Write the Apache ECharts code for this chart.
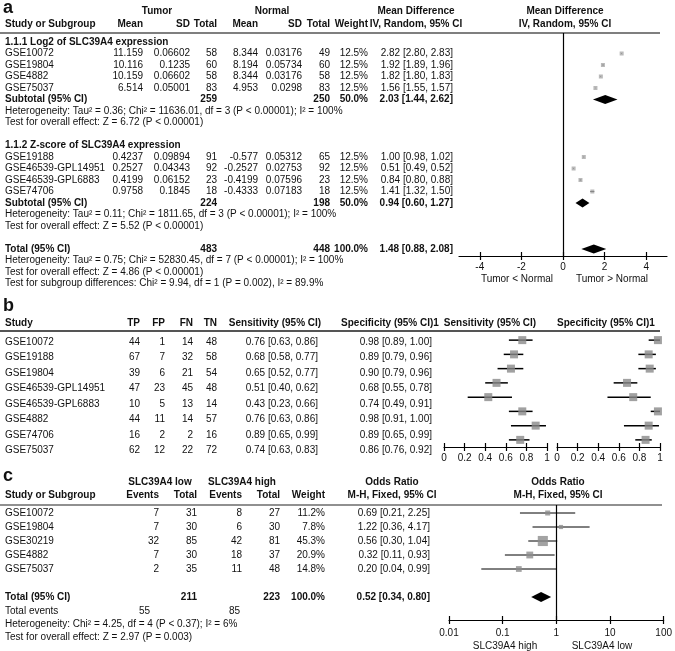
<!DOCTYPE html>
<html><head><meta charset="utf-8">
<script src="https://cdn.jsdelivr.net/npm/echarts@6/dist/echarts.min.js"></script>
<style>html,body{margin:0;padding:0;background:#fff}#c{width:675px;height:651px}</style>
</head><body><div id="c"></div><script>
// ================= DATA =================
// ---- Panel a ----
const aGroupTitles = ['1.1.1 Log2 of SLC39A4 expression', '1.1.2 Z-score of SLC39A4 expression'];
const aStudies1 = ['GSE10072', 'GSE19804', 'GSE4882', 'GSE75037'];
const aTumorMean1 = ['11.159', '10.116', '10.159', '6.514'];
const aTumorSD1 = ['0.06602', '0.1235', '0.06602', '0.05001'];
const aTumorN1 = [58, 60, 58, 83];
const aNormMean1 = ['8.344', '8.194', '8.344', '4.953'];
const aNormSD1 = ['0.03176', '0.05734', '0.03176', '0.0298'];
const aNormN1 = [49, 60, 58, 83];
const aWeight1 = ['12.5%', '12.5%', '12.5%', '12.5%'];
const aMD1 = [2.82, 1.92, 1.82, 1.56];
const aLo1 = [2.80, 1.89, 1.80, 1.55];
const aHi1 = [2.83, 1.96, 1.83, 1.57];
const aSubN1 = [259, 250];
const aSubW1 = '50.0%';
const aSubCI1 = [2.03, 1.44, 2.62];
const aHet1 = 'Heterogeneity: Tau\u00b2 = 0.36; Chi\u00b2 = 11636.01, df = 3 (P < 0.00001); I\u00b2 = 100%';
const aTest1 = 'Test for overall effect: Z = 6.72 (P < 0.00001)';

const aStudies2 = ['GSE19188', 'GSE46539-GPL14951', 'GSE46539-GPL6883', 'GSE74706'];
const aTumorMean2 = ['0.4237', '0.2527', '0.4199', '0.9758'];
const aTumorSD2 = ['0.09894', '0.04343', '0.06152', '0.1845'];
const aTumorN2 = [91, 92, 23, 18];
const aNormMean2 = ['-0.577', '-0.2527', '-0.4199', '-0.4333'];
const aNormSD2 = ['0.05312', '0.02753', '0.07596', '0.07183'];
const aNormN2 = [65, 92, 23, 18];
const aWeight2 = ['12.5%', '12.5%', '12.5%', '12.5%'];
const aMD2 = [1.00, 0.51, 0.84, 1.41];
const aLo2 = [0.98, 0.49, 0.80, 1.32];
const aHi2 = [1.02, 0.52, 0.88, 1.50];
const aSubN2 = [224, 198];
const aSubW2 = '50.0%';
const aSubCI2 = [0.94, 0.60, 1.27];
const aHet2 = 'Heterogeneity: Tau\u00b2 = 0.11; Chi\u00b2 = 1811.65, df = 3 (P < 0.00001); I\u00b2 = 100%';
const aTest2 = 'Test for overall effect: Z = 5.52 (P < 0.00001)';

const aTotN = [483, 448];
const aTotW = '100.0%';
const aTotCI = [1.48, 0.88, 2.08];
const aTotHet = 'Heterogeneity: Tau\u00b2 = 0.75; Chi\u00b2 = 52830.45, df = 7 (P < 0.00001); I\u00b2 = 100%';
const aTotTest = 'Test for overall effect: Z = 4.86 (P < 0.00001)';
const aSubgroupTest = 'Test for subgroup differences: Chi\u00b2 = 9.94, df = 1 (P = 0.002), I\u00b2 = 89.9%';
const aTicks = [-4, -2, 0, 2, 4];
const aAxisNotes = ['Tumor < Normal', 'Tumor > Normal'];

// ---- Panel b ----
const bStudies = ['GSE10072', 'GSE19188', 'GSE19804', 'GSE46539-GPL14951', 'GSE46539-GPL6883', 'GSE4882', 'GSE74706', 'GSE75037'];
const bTP = [44, 67, 39, 47, 10, 44, 16, 62];
const bFP = [1, 7, 6, 23, 5, 11, 2, 12];
const bFN = [14, 32, 21, 45, 13, 14, 2, 22];
const bTN = [48, 58, 54, 48, 14, 57, 16, 72];
const bSens = [0.76, 0.68, 0.65, 0.51, 0.43, 0.76, 0.89, 0.74];
const bSensLo = [0.63, 0.58, 0.52, 0.40, 0.23, 0.63, 0.65, 0.63];
const bSensHi = [0.86, 0.77, 0.77, 0.62, 0.66, 0.86, 0.99, 0.83];
const bSpec = [0.98, 0.89, 0.90, 0.68, 0.74, 0.98, 0.89, 0.86];
const bSpecLo = [0.89, 0.79, 0.79, 0.55, 0.49, 0.91, 0.65, 0.76];
const bSpecHi = [1.00, 0.96, 0.96, 0.78, 0.91, 1.00, 0.99, 0.92];
const bTicks = [0, 0.2, 0.4, 0.6, 0.8, 1];

// ---- Panel c ----
const cStudies = ['GSE10072', 'GSE19804', 'GSE30219', 'GSE4882', 'GSE75037'];
const cLowEvents = [7, 7, 32, 7, 2];
const cLowTotal = [31, 30, 85, 30, 35];
const cHighEvents = [8, 6, 42, 18, 11];
const cHighTotal = [27, 30, 81, 37, 48];
const cWeight = [11.2, 7.8, 45.3, 20.9, 14.8];
const cOR = [0.69, 1.22, 0.56, 0.32, 0.20];
const cLo = [0.21, 0.36, 0.30, 0.11, 0.04];
const cHi = [2.25, 4.17, 1.04, 0.93, 0.99];
const cTotN = [211, 223];
const cTotW = '100.0%';
const cTotCI = [0.52, 0.34, 0.80];
const cTotEvents = [55, 85];
const cHet = 'Heterogeneity: Chi\u00b2 = 4.25, df = 4 (P < 0.37); I\u00b2 = 6%';
const cTest = 'Test for overall effect: Z = 2.97 (P = 0.003)';
const cTicks = [0.01, 0.1, 1, 10, 100];
const cAxisNotes = ['SLC39A4 high', 'SLC39A4 low'];

// ================= LAYOUT / STYLE =================
const FONT = '"Liberation Sans", Arial, Helvetica, sans-serif';
const FS = 10;
const TXT = '#111';
const G = [];
function t(x, y, s, align, bold, size) {
  G.push({type: 'text', x: x, y: y, silent: true, style: {
    text: String(s), x: 0, y: 0, align: align || 'left', verticalAlign: 'middle',
    textAlign: align || 'left', textVerticalAlign: 'middle',
    font: (bold ? 'bold ' : '') + (size || FS) + 'px ' + FONT, fill: TXT}});
}
function hline(x1, x2, y, w, color) {
  G.push({type: 'line', silent: true, shape: {x1: x1, y1: y, x2: x2, y2: y}, style: {stroke: color || '#000', lineWidth: w || 1}});
}
const ci = (m, l, h) => m.toFixed(2) + ' [' + l.toFixed(2) + ', ' + h.toFixed(2) + ']';

// ---------- Panel a text ----------
const A_ROW0 = 42, A_ROWH = 11.5, A_TOP = 33, A_AXIS = 256;
const ay = L => A_ROW0 + A_ROWH * L;
const aCol = {tm: 143, tsd: 190, tn: 217, nm: 258, nsd: 302, nn: 330, w: 368, ci: 453};
t(3, 8, 'a', 'left', true, 18);
t(157, 11, 'Tumor', 'center', true);
t(272, 11, 'Normal', 'center', true);
t(416, 11, 'Mean Difference', 'center', true);
t(565, 11, 'Mean Difference', 'center', true);
t(5, 24, 'Study or Subgroup', 'left', true);
t(aCol.tm, 24, 'Mean', 'right', true);
t(aCol.tsd, 24, 'SD', 'right', true);
t(aCol.tn, 24, 'Total', 'right', true);
t(aCol.nm, 24, 'Mean', 'right', true);
t(aCol.nsd, 24, 'SD', 'right', true);
t(aCol.nn, 24, 'Total', 'right', true);
t(aCol.w, 24, 'Weight', 'right', true);
t(416, 24, 'IV, Random, 95% CI', 'center', true);
t(565, 24, 'IV, Random, 95% CI', 'center', true);
hline(0, 660, A_TOP, 1.2, '#000');

const aGroups = [
  {title: aGroupTitles[0], st: aStudies1, tm: aTumorMean1, tsd: aTumorSD1, tn: aTumorN1, nm: aNormMean1, nsd: aNormSD1, nn: aNormN1, w: aWeight1, md: aMD1, lo: aLo1, hi: aHi1, subN: aSubN1, subW: aSubW1, subCI: aSubCI1, het: aHet1, test: aTest1},
  {title: aGroupTitles[1], st: aStudies2, tm: aTumorMean2, tsd: aTumorSD2, tn: aTumorN2, nm: aNormMean2, nsd: aNormSD2, nn: aNormN2, w: aWeight2, md: aMD2, lo: aLo2, hi: aHi2, subN: aSubN2, subW: aSubW2, subCI: aSubCI2, het: aHet2, test: aTest2}
];
const aPoints = [], aCIs = [], aDiamonds = [];
let L = 0;
aGroups.forEach(g => {
  t(5, ay(L), g.title, 'left', true); L++;
  g.st.forEach((s, i) => {
    const y = ay(L);
    t(5, y, s); t(aCol.tm, y, g.tm[i], 'right'); t(aCol.tsd, y, g.tsd[i], 'right'); t(aCol.tn, y, g.tn[i], 'right');
    t(aCol.nm, y, g.nm[i], 'right'); t(aCol.nsd, y, g.nsd[i], 'right'); t(aCol.nn, y, g.nn[i], 'right');
    t(aCol.w, y, g.w[i], 'right'); t(aCol.ci, y, ci(g.md[i], g.lo[i], g.hi[i]), 'right');
    aPoints.push([g.md[i], L]); aCIs.push([g.lo[i], g.hi[i], L]);
    L++;
  });
  let y = ay(L);
  t(5, y, 'Subtotal (95% CI)', 'left', true); t(aCol.tn, y, g.subN[0], 'right', true); t(aCol.nn, y, g.subN[1], 'right', true);
  t(aCol.w, y, g.subW, 'right', true); t(aCol.ci, y, ci(g.subCI[0], g.subCI[1], g.subCI[2]), 'right', true);
  aDiamonds.push([g.subCI[0], g.subCI[1], g.subCI[2], L]);
  L++;
  t(5, ay(L), g.het); L++;
  t(5, ay(L), g.test); L++;
  L++;
});
{
  let y = ay(L);
  t(5, y, 'Total (95% CI)', 'left', true); t(aCol.tn, y, aTotN[0], 'right', true); t(aCol.nn, y, aTotN[1], 'right', true);
  t(aCol.w, y, aTotW, 'right', true); t(aCol.ci, y, ci(aTotCI[0], aTotCI[1], aTotCI[2]), 'right', true);
  aDiamonds.push([aTotCI[0], aTotCI[1], aTotCI[2], L]);
  L++;
  t(5, ay(L), aTotHet); L++;
  t(5, ay(L), aTotTest); L++;
  t(5, ay(L), aSubgroupTest); L++;
}
t(517, 279, aAxisNotes[0], 'center');
t(612, 279, aAxisNotes[1], 'center');

// ---------- Panel b text ----------
const B_ROW0 = 342, B_ROWH = 15.5, B_HEAD = 323, B_LINE = 331, B_TOP = 333, B_AXIS = 447;
const by = i => B_ROW0 + B_ROWH * i;
const bCol = {tp: 140, fp: 165, fn: 193, tn: 217, sens: 318, spec: 432};
t(3, 306, 'b', 'left', true, 18);
t(5, B_HEAD, 'Study', 'left', true);
t(bCol.tp, B_HEAD, 'TP', 'right', true);
t(bCol.fp, B_HEAD, 'FP', 'right', true);
t(bCol.fn, B_HEAD, 'FN', 'right', true);
t(bCol.tn, B_HEAD, 'TN', 'right', true);
t(275, B_HEAD, 'Sensitivity (95% CI)', 'center', true);
t(390, B_HEAD, 'Specificity (95% CI)1', 'center', true);
t(490, B_HEAD, 'Sensitivity (95% CI)', 'center', true);
t(606, B_HEAD, 'Specificity (95% CI)1', 'center', true);
hline(0, 660, B_LINE, 2, '#555');
bStudies.forEach((s, i) => {
  const y = by(i);
  t(5, y, s); t(bCol.tp, y, bTP[i], 'right'); t(bCol.fp, y, bFP[i], 'right'); t(bCol.fn, y, bFN[i], 'right'); t(bCol.tn, y, bTN[i], 'right');
  t(bCol.sens, y, ci(bSens[i], bSensLo[i], bSensHi[i]), 'right');
  t(bCol.spec, y, ci(bSpec[i], bSpecLo[i], bSpecHi[i]), 'right');
});

// ---------- Panel c text ----------
const C_ROW0 = 513, C_ROWH = 14, C_TOP = 505, C_AXIS = 620;
const cy = L => C_ROW0 + C_ROWH * L;
const cCol = {le: 159, lt: 197, he: 242, ht: 280, w: 325, ci: 430};
t(3, 476, 'c', 'left', true, 18);
t(160, 482, 'SLC39A4 low', 'center', true);
t(242, 482, 'SLC39A4 high', 'center', true);
t(392, 482, 'Odds Ratio', 'center', true);
t(558, 482, 'Odds Ratio', 'center', true);
t(5, 495, 'Study or Subgroup', 'left', true);
t(cCol.le, 495, 'Events', 'right', true);
t(cCol.lt, 495, 'Total', 'right', true);
t(cCol.he, 495, 'Events', 'right', true);
t(cCol.ht, 495, 'Total', 'right', true);
t(cCol.w, 495, 'Weight', 'right', true);
t(392, 495, 'M-H, Fixed, 95% CI', 'center', true);
t(558, 495, 'M-H, Fixed, 95% CI', 'center', true);
hline(0, 662, C_TOP, 1.2, '#222');
cStudies.forEach((s, i) => {
  const y = cy(i);
  t(5, y, s); t(cCol.le, y, cLowEvents[i], 'right'); t(cCol.lt, y, cLowTotal[i], 'right');
  t(cCol.he, y, cHighEvents[i], 'right'); t(cCol.ht, y, cHighTotal[i], 'right');
  t(cCol.w, y, cWeight[i].toFixed(1) + '%', 'right'); t(cCol.ci, y, ci(cOR[i], cLo[i], cHi[i]), 'right');
});
const cTotRow = cStudies.length + 1;
t(5, cy(cTotRow), 'Total (95% CI)', 'left', true);
t(cCol.lt, cy(cTotRow), cTotN[0], 'right', true);
t(cCol.ht, cy(cTotRow), cTotN[1], 'right', true);
t(cCol.w, cy(cTotRow), cTotW, 'right', true);
t(cCol.ci, cy(cTotRow), ci(cTotCI[0], cTotCI[1], cTotCI[2]), 'right', true);
t(5, 611, 'Total events'); t(150, 611, cTotEvents[0], 'right'); t(240, 611, cTotEvents[1], 'right');
t(5, 624, cHet);
t(5, 637, cTest);
t(505, 646, cAxisNotes[0], 'center');
t(602, 646, cAxisNotes[1], 'center');

// ================= CHART =================
const axisLabelStyle = {color: TXT, fontSize: FS, fontFamily: FONT};
const tickLine = {color: '#000', width: 1.2};
function mainX(grid, extra) {
  return Object.assign({gridIndex: grid, position: 'bottom', splitLine: {show: false},
    axisLine: {show: true, onZero: false, lineStyle: {color: '#000', width: 1.2}},
    axisTick: {show: true, length: 4, lineStyle: tickLine},
    axisLabel: Object.assign({margin: 6}, axisLabelStyle)}, extra);
}
// second axis drawn on the same bottom line with ticks pointing up (so ticks cross the axis line)
function upX(grid, h, extra) {
  return Object.assign({gridIndex: grid, position: 'top', offset: -h, splitLine: {show: false},
    axisLine: {show: false, onZero: false}, axisLabel: {show: false},
    axisTick: {show: true, inside: false, length: 4, lineStyle: tickLine}}, extra);
}
const grids = [
  {left: 459, width: 208, top: A_TOP, height: A_AXIS - A_TOP},
  {left: 444, width: 103, top: B_TOP, height: B_AXIS - B_TOP},
  {left: 557, width: 103, top: B_TOP, height: B_AXIS - B_TOP},
  {left: 449, width: 215, top: C_TOP, height: C_AXIS - C_TOP}
];
const xAxes = [
  mainX(0, {type: 'value', min: -5, max: 5, axisTick: {show: true, length: 4, customValues: aTicks, lineStyle: tickLine}, axisLabel: Object.assign({margin: 6, customValues: aTicks}, axisLabelStyle)}),
  upX(0, A_AXIS - A_TOP, {type: 'value', min: -5, max: 5, axisTick: {show: true, length: 4, customValues: aTicks, lineStyle: tickLine}}),
  mainX(1, {type: 'value', min: 0, max: 1, interval: 0.2}),
  upX(1, B_AXIS - B_TOP, {type: 'value', min: 0, max: 1, interval: 0.2}),
  mainX(2, {type: 'value', min: 0, max: 1, interval: 0.2}),
  upX(2, B_AXIS - B_TOP, {type: 'value', min: 0, max: 1, interval: 0.2}),
  mainX(3, {type: 'log', logBase: 10, min: 0.01, max: 100, axisTick: {show: true, length: 4, customValues: cTicks, lineStyle: tickLine}, axisLabel: Object.assign({margin: 8, customValues: cTicks, formatter: v => String(+v.toPrecision(3))}, axisLabelStyle)}),
  upX(3, C_AXIS - C_TOP, {type: 'log', logBase: 10, min: 0.01, max: 100, axisTick: {show: true, length: 4, customValues: cTicks, lineStyle: tickLine}})
];
const yAxes = [
  {gridIndex: 0, type: 'value', inverse: true, show: false, min: (A_TOP - A_ROW0) / A_ROWH, max: (A_AXIS - A_ROW0) / A_ROWH},
  {gridIndex: 1, type: 'category', inverse: true, show: false, data: bStudies},
  {gridIndex: 2, type: 'category', inverse: true, show: false, data: bStudies},
  {gridIndex: 3, type: 'value', inverse: true, show: false, min: (C_TOP - C_ROW0) / C_ROWH, max: (C_AXIS - C_ROW0) / C_ROWH}
];

function ciSeries(xi, yi, data, width) {
  return {type: 'custom', xAxisIndex: xi, yAxisIndex: yi, silent: true, clip: false, data: data,
    renderItem: (p, api) => {
      const a = api.coord([api.value(0), api.value(2)]);
      const b = api.coord([api.value(1), api.value(2)]);
      return {type: 'line', shape: {x1: a[0], y1: a[1], x2: b[0], y2: b[1]}, style: {stroke: '#000', lineWidth: width}};
    }};
}
function diamondSeries(xi, yi, data, half) {
  return {type: 'custom', xAxisIndex: xi, yAxisIndex: yi, silent: true, clip: false, data: data,
    renderItem: (p, api) => {
      const yv = api.value(3);
      const m = api.coord([api.value(0), yv]);
      const l = api.coord([api.value(1), yv]);
      const h = api.coord([api.value(2), yv]);
      return {type: 'polygon', shape: {points: [[l[0], l[1]], [m[0], m[1] - half], [h[0], h[1]], [m[0], m[1] + half]]}, style: {fill: '#000'}};
    }};
}

const series = [
  // panel a
  ciSeries(0, 0, aCIs, 1),
  {type: 'scatter', xAxisIndex: 0, yAxisIndex: 0, silent: true, symbol: 'rect', symbolSize: 4,
    itemStyle: {color: '#a8a8a8'}, data: aPoints,
    markLine: {silent: true, symbol: 'none', label: {show: false}, lineStyle: {color: '#000', width: 1.2, type: 'solid'}, data: [{xAxis: 0}]}},
  diamondSeries(0, 0, aDiamonds, 4.5),
  // panel b sensitivity
  ciSeries(2, 1, bStudies.map((s, i) => [bSensLo[i], bSensHi[i], s]), 1.5),
  {type: 'scatter', xAxisIndex: 2, yAxisIndex: 1, silent: true, symbol: 'rect', symbolSize: 8,
    itemStyle: {color: '#8a8a8a'}, data: bStudies.map((s, i) => [bSens[i], s])},
  // panel b specificity
  ciSeries(4, 2, bStudies.map((s, i) => [bSpecLo[i], bSpecHi[i], s]), 1.5),
  {type: 'scatter', xAxisIndex: 4, yAxisIndex: 2, silent: true, symbol: 'rect', symbolSize: 8,
    itemStyle: {color: '#8a8a8a'}, data: bStudies.map((s, i) => [bSpec[i], s])},
  // panel c
  ciSeries(6, 3, cStudies.map((s, i) => [cLo[i], cHi[i], i]), 1),
  {type: 'scatter', xAxisIndex: 6, yAxisIndex: 3, silent: true, symbol: 'rect',
    symbolSize: v => 1.5 * Math.sqrt(v[2]),
    itemStyle: {color: '#8c8c8c'}, data: cStudies.map((s, i) => [cOR[i], i, cWeight[i]]),
    markLine: {silent: true, symbol: 'none', label: {show: false}, lineStyle: {color: '#000', width: 1.2, type: 'solid'}, data: [{xAxis: 1}]}},
  diamondSeries(6, 3, [[cTotCI[0], cTotCI[1], cTotCI[2], cStudies.length + 1]], 5)
];

const chart = echarts.init(document.getElementById('c'), null, {renderer: 'canvas', width: 675, height: 651});
chart.setOption({
  animation: false,
  backgroundColor: '#fff',
  textStyle: {fontFamily: FONT},
  grid: grids, xAxis: xAxes, yAxis: yAxes, series: series,
  graphic: {elements: G}
});
</script></body></html>
